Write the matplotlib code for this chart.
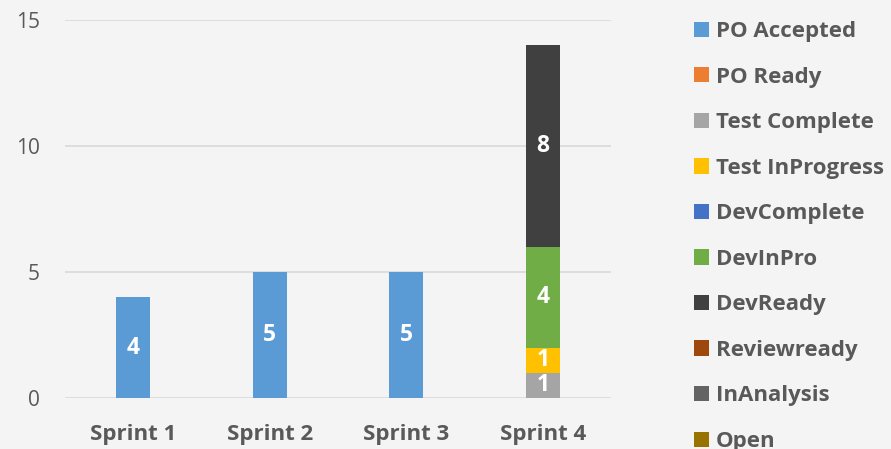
import matplotlib
matplotlib.use("Agg")
import matplotlib.pyplot as plt
import numpy as np

categories = ["Sprint 1", "Sprint 2", "Sprint 3", "Sprint 4"]
series_names = ["PO Accepted", "PO Ready", "Test Complete", "Test InProgress",
                "DevComplete", "DevInPro", "DevReady", "Reviewready",
                "InAnalysis", "Open"]
po_accepted = [4, 5, 5, 0]
po_ready = [0, 0, 0, 0]
test_complete = [0, 0, 0, 1]
test_inprogress = [0, 0, 0, 1]
dev_complete = [0, 0, 0, 0]
dev_inpro = [0, 0, 0, 4]
dev_ready = [0, 0, 0, 8]
review_ready = [0, 0, 0, 0]
in_analysis = [0, 0, 0, 0]
open_ = [0, 0, 0, 0]
yticks = [0, 5, 10, 15]

series_values = [po_accepted, po_ready, test_complete, test_inprogress,
                 dev_complete, dev_inpro, dev_ready, review_ready,
                 in_analysis, open_]
colors = ["#5B9BD5", "#ED7D31", "#A5A5A5", "#FFC000", "#4472C4",
          "#70AD47", "#404040", "#9E480E", "#636363", "#997300"]

plt.rcParams['font.family'] = ['Open Sans', 'DejaVu Sans']
bg = "#F4F4F4"
fig = plt.figure(figsize=(8.91, 4.49), dpi=100, facecolor=bg)
ax = fig.add_axes([65/891, 51/449, 546/891, 378/449], facecolor=bg)

x = np.arange(len(categories))
bottom = np.zeros(len(categories))
handles = []
for name, vals, c in zip(series_names, series_values, colors):
    vals = np.array(vals, dtype=float)
    bars = ax.bar(x, vals, 0.25, bottom=bottom, color=c, label=name, zorder=3)
    handles.append(bars)
    for xi, v, b in zip(x, vals, bottom):
        if v > 0:
            ax.text(xi, b + v / 2, f"{int(v)}", ha="center", va="center",
                    color="white", fontsize=16.5, fontweight="bold", zorder=4)
    bottom += vals

ax.set_xlim(-0.5, 3.5)
ax.set_ylim(0, 15)
ax.set_yticks(yticks)
ax.set_xticks(x)
ax.set_xticklabels(categories, fontsize=16, fontweight="bold", color="#595959")
ax.tick_params(axis="y", labelsize=15, labelcolor="#595959", length=0, pad=18)
ax.tick_params(axis="x", length=0, pad=18.5)
ax.grid(axis="y", color="#D9D9D9", linewidth=1.2, zorder=0)
for s in ax.spines.values():
    s.set_visible(False)

leg = fig.legend(handles=handles, labels=series_names, loc="upper left",
                 bbox_to_anchor=(694/891, 1 - 21/449), frameon=False,
                 fontsize=16, handlelength=0.68, handleheight=0.68,
                 handletextpad=0.3, labelspacing=1.105, borderaxespad=0,
                 borderpad=0)
for t in leg.get_texts():
    t.set_fontweight("bold")
    t.set_color("#595959")

fig.savefig("out.png", dpi=100, facecolor=bg)
